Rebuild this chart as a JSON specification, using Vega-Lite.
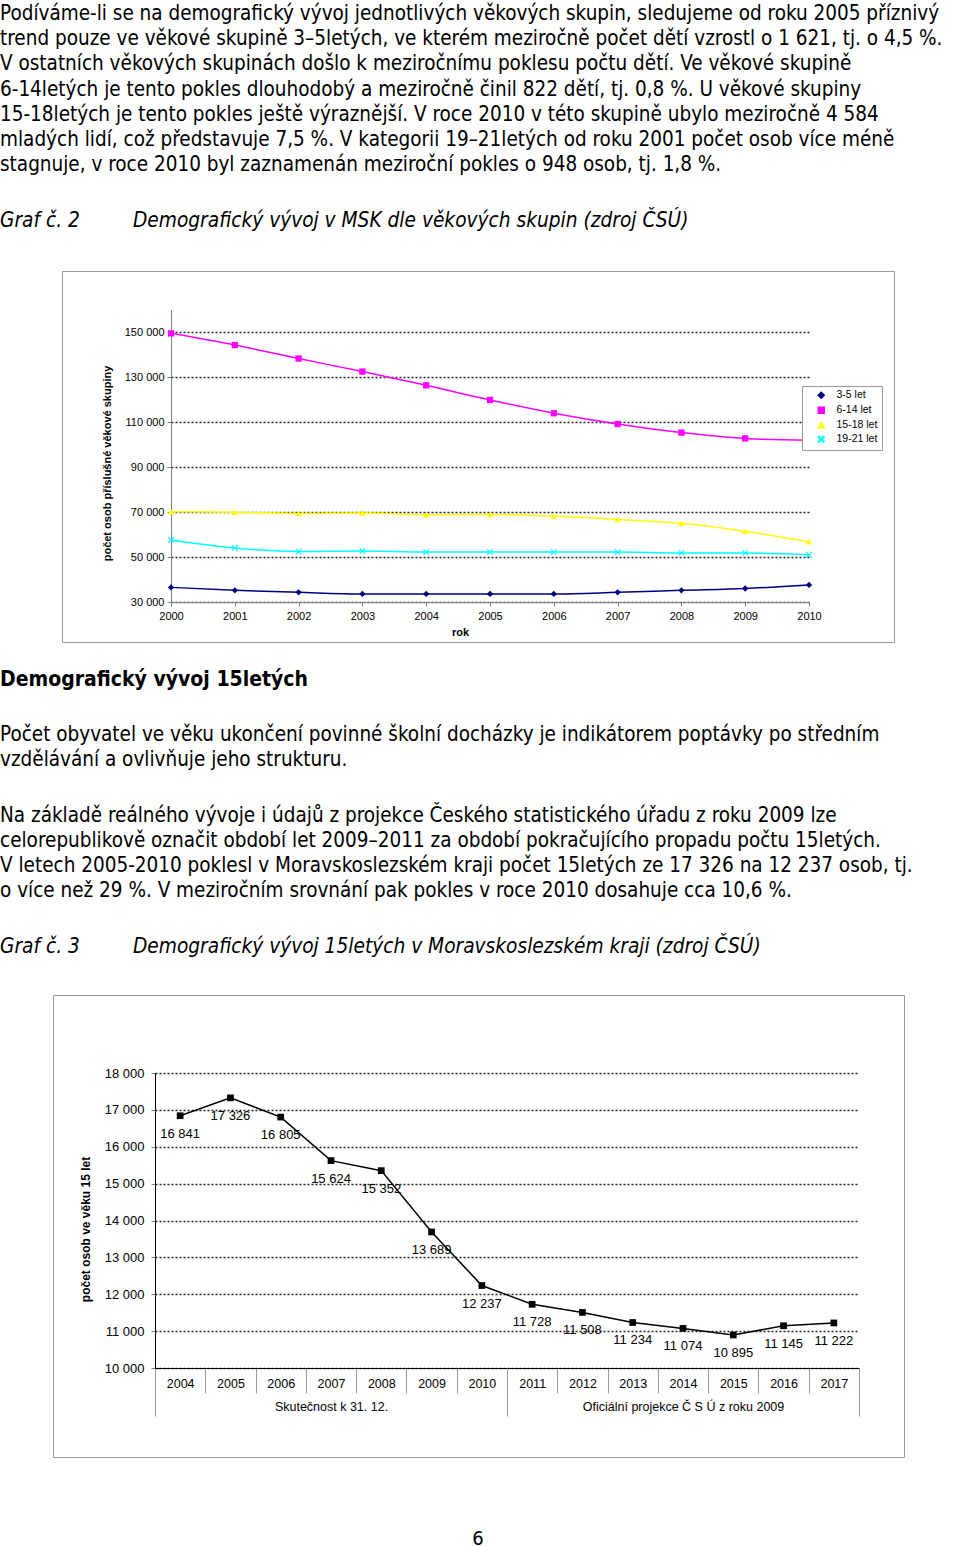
{
  "$schema": "https://vega.github.io/schema/vega-lite/v6.json",
  "padding": 0,
  "background": "white",
  "spacing": 0,
  "config": {
    "view": {"stroke": null},
    "font": "Liberation Sans",
    "locale": {"number": {"decimal": ",", "thousands": " ", "grouping": [3], "currency": ["", " Kč"]}},
    "text": {"color": "#000"},
    "axis": {"labelColor": "#000", "titleColor": "#000"}
  },
  "datasets": {
    "groups": [
      {"year": 2000, "group": "3-5 let", "value": 36500},
      {"year": 2001, "group": "3-5 let", "value": 35200},
      {"year": 2002, "group": "3-5 let", "value": 34300},
      {"year": 2003, "group": "3-5 let", "value": 33600},
      {"year": 2004, "group": "3-5 let", "value": 33600},
      {"year": 2005, "group": "3-5 let", "value": 33600},
      {"year": 2006, "group": "3-5 let", "value": 33600},
      {"year": 2007, "group": "3-5 let", "value": 34300},
      {"year": 2008, "group": "3-5 let", "value": 35200},
      {"year": 2009, "group": "3-5 let", "value": 36000},
      {"year": 2010, "group": "3-5 let", "value": 37600},
      {"year": 2000, "group": "6-14 let", "value": 149400},
      {"year": 2001, "group": "6-14 let", "value": 144200},
      {"year": 2002, "group": "6-14 let", "value": 138200},
      {"year": 2003, "group": "6-14 let", "value": 132400},
      {"year": 2004, "group": "6-14 let", "value": 126300},
      {"year": 2005, "group": "6-14 let", "value": 119800},
      {"year": 2006, "group": "6-14 let", "value": 113900},
      {"year": 2007, "group": "6-14 let", "value": 109100},
      {"year": 2008, "group": "6-14 let", "value": 105300},
      {"year": 2009, "group": "6-14 let", "value": 102700},
      {"year": 2010, "group": "6-14 let", "value": 101900},
      {"year": 2000, "group": "15-18 let", "value": 70100},
      {"year": 2001, "group": "15-18 let", "value": 69900},
      {"year": 2002, "group": "15-18 let", "value": 69300},
      {"year": 2003, "group": "15-18 let", "value": 69600},
      {"year": 2004, "group": "15-18 let", "value": 68800},
      {"year": 2005, "group": "15-18 let", "value": 68900},
      {"year": 2006, "group": "15-18 let", "value": 68200},
      {"year": 2007, "group": "15-18 let", "value": 66700},
      {"year": 2008, "group": "15-18 let", "value": 65000},
      {"year": 2009, "group": "15-18 let", "value": 61400},
      {"year": 2010, "group": "15-18 let", "value": 56800},
      {"year": 2000, "group": "19-21 let", "value": 57600},
      {"year": 2001, "group": "19-21 let", "value": 54000},
      {"year": 2002, "group": "19-21 let", "value": 52400},
      {"year": 2003, "group": "19-21 let", "value": 52700},
      {"year": 2004, "group": "19-21 let", "value": 52200},
      {"year": 2005, "group": "19-21 let", "value": 52200},
      {"year": 2006, "group": "19-21 let", "value": 52200},
      {"year": 2007, "group": "19-21 let", "value": 52200},
      {"year": 2008, "group": "19-21 let", "value": 51800},
      {"year": 2009, "group": "19-21 let", "value": 51800},
      {"year": 2010, "group": "19-21 let", "value": 51000}
    ],
    "fifteen": [
      {"year": "2004", "value": 16841, "grp": "Skutečnost k 31. 12."},
      {"year": "2005", "value": 17326, "grp": "Skutečnost k 31. 12."},
      {"year": "2006", "value": 16805, "grp": "Skutečnost k 31. 12."},
      {"year": "2007", "value": 15624, "grp": "Skutečnost k 31. 12."},
      {"year": "2008", "value": 15352, "grp": "Skutečnost k 31. 12."},
      {"year": "2009", "value": 13689, "grp": "Skutečnost k 31. 12."},
      {"year": "2010", "value": 12237, "grp": "Skutečnost k 31. 12."},
      {"year": "2011", "value": 11728, "grp": "Oficiální  projekce Č S Ú  z roku 2009"},
      {"year": "2012", "value": 11508, "grp": "Oficiální  projekce Č S Ú  z roku 2009"},
      {"year": "2013", "value": 11234, "grp": "Oficiální  projekce Č S Ú  z roku 2009"},
      {"year": "2014", "value": 11074, "grp": "Oficiální  projekce Č S Ú  z roku 2009"},
      {"year": "2015", "value": 10895, "grp": "Oficiální  projekce Č S Ú  z roku 2009"},
      {"year": "2016", "value": 11145, "grp": "Oficiální  projekce Č S Ú  z roku 2009"},
      {"year": "2017", "value": 11222, "grp": "Oficiální  projekce Č S Ú  z roku 2009"}
    ]
  },
  "vconcat": [
    {
      "width": 960, "height": 205,
      "data": {"values": [
        {"line": 1, "col": "a", "text": "Podíváme-li se na demografický vývoj jednotlivých věkových skupin, sledujeme od roku 2005 příznivý"},
        {"line": 2, "col": "a", "text": "trend pouze ve věkové skupině 3–5letých, ve kterém meziročně počet dětí vzrostl o 1 621, tj. o 4,5 %."},
        {"line": 3, "col": "a", "text": "V ostatních věkových skupinách došlo k meziročnímu poklesu počtu dětí. Ve věkové skupině"},
        {"line": 4, "col": "a", "text": "6-14letých je tento pokles dlouhodobý a meziročně činil 822 dětí, tj. 0,8 %. U věkové skupiny"},
        {"line": 5, "col": "a", "text": "15-18letých je tento pokles ještě výraznější. V roce 2010 v této skupině ubylo meziročně 4 584"},
        {"line": 6, "col": "a", "text": "mladých lidí, což představuje 7,5 %. V kategorii 19–21letých od roku 2001 počet osob více méně"},
        {"line": 7, "col": "a", "text": "stagnuje, v roce 2010 byl zaznamenán meziroční pokles o 948 osob, tj. 1,8 %."}
      ]},
      "mark": {"type": "text", "align": "left", "baseline": "middle", "font": "DejaVu Sans Condensed, DejaVu Sans", "fontSize": 20.5},
      "encoding": {
        "x": {"field": "col", "type": "nominal", "scale": {"type": "point", "range": [0, 960], "align": 0, "padding": 0}, "axis": null},
        "y": {"field": "line", "type": "ordinal", "scale": {"type": "band", "range": [1.4, 177.6], "paddingInner": 0, "paddingOuter": 0}, "axis": null},
        "text": {"field": "text"}
      }
    },
    {
      "width": 960, "height": 65,
      "data": {"values": [
        {"line": 1, "col": "a", "text": "Graf č. 2"},
        {"line": 1, "col": "b", "text": "Demografický vývoj v MSK dle věkových skupin (zdroj ČSÚ)"}
      ]},
      "mark": {"type": "text", "align": "left", "baseline": "middle", "font": "DejaVu Sans Condensed, DejaVu Sans", "fontSize": 20.7, "fontStyle": "italic"},
      "encoding": {
        "x": {"field": "col", "type": "nominal", "scale": {"type": "point", "range": [0, 133], "padding": 0}, "axis": null},
        "y": {"field": "line", "type": "ordinal", "scale": {"type": "band", "range": [3, 29], "paddingInner": 0, "paddingOuter": 0}, "axis": null},
        "text": {"field": "text"}
      }
    },
    {
      "spacing": 0,
      "hconcat": [
        {
          "width": 61, "height": 371,
          "data": {"values": [{"a": 0}]},
          "mark": {"type": "point", "opacity": 0},
          "encoding": {}
        },
        {
          "width": 832, "height": 371,
          "view": {"stroke": "#9a9a9a", "strokeWidth": 1},
          "data": {"name": "groups"},
          "encoding": {
            "x": {"field": "year", "type": "quantitative",
              "scale": {"domain": [2000, 2010], "range": [109, 747], "nice": false, "zero": false},
              "axis": {"orient": "bottom", "offset": -40, "values": [2000, 2001, 2002, 2003, 2004, 2005, 2006, 2007, 2008, 2009, 2010], "format": "d",
                "tickSize": 4, "labelPadding": 4, "labelFontSize": 11, "labelFlush": false, "grid": false, "domainColor": "#808080", "tickColor": "#808080",
                "title": "rok", "titleFontSize": 11, "titleFontWeight": "bold", "titleX": 398, "titlePadding": 5}},
            "y": {"field": "value", "type": "quantitative",
              "scale": {"domain": [30000, 160000], "range": [331, 38.5], "nice": false, "zero": false},
              "axis": {"orient": "left", "offset": -109, "values": [30000, 50000, 70000, 90000, 110000, 130000, 150000], "format": ",d",
                "tickSize": 4, "labelPadding": 3, "labelFontSize": 11, "labelFlush": false, "domainColor": "#808080", "tickColor": "#808080",
                "grid": true, "gridDash": [2, 2], "gridColor": "#000", "gridWidth": 1.5, "gridOpacity": 0.85,
                "title": "počet osob příslušné věkové skupiny", "titleFontSize": 11, "titleFontWeight": "bold", "titlePadding": 12, "titleY": 192}},
            "color": {"field": "group", "type": "nominal", "scale": {"domain": ["3-5 let", "6-14 let", "15-18 let", "19-21 let"], "range": ["#000080", "#ff00ff", "#ffff00", "#00ffff"]},
              "legend": {"orient": "none", "legendX": 802, "legendY": 386, "title": null, "strokeColor": "#9a9a9a", "fillColor": "#fff", "padding": 4, "labelFontSize": 10.5, "symbolSize": 35, "rowPadding": 2, "symbolOffset": 10, "labelOffset": 10, "symbolStrokeWidth": 1.5}}
          },
          "layer": [
            {
              "mark": {"type": "line", "interpolate": "monotone", "strokeWidth": 1.5}
            },
            {
              "mark": {"type": "point", "filled": true, "opacity": 1, "size": 40},
              "encoding": {
                "shape": {"field": "group", "type": "nominal", "scale": {"domain": ["3-5 let", "6-14 let", "15-18 let", "19-21 let"], "range": ["diamond", "square", "triangle-up", "M-1,-0.75L-0.75,-1L0,-0.25L0.75,-1L1,-0.75L0.25,0L1,0.75L0.75,1L0,0.25L-0.75,1L-1,0.75L-0.25,0Z"]},
                  "legend": {"orient": "none", "legendX": 802, "legendY": 386, "title": null, "strokeColor": "#9a9a9a", "fillColor": "#fff", "padding": 4, "labelFontSize": 10.5, "symbolSize": 35, "rowPadding": 2, "symbolOffset": 10, "labelOffset": 10, "symbolStrokeWidth": 1.5}}
              }
            }
          ]
        }
      ]
    },
    {
      "width": 960, "height": 64,
      "data": {"values": [{"line": 1, "col": "a", "text": "Demografický vývoj 15letých"}]},
      "mark": {"type": "text", "align": "left", "baseline": "middle", "font": "DejaVu Sans Condensed, DejaVu Sans", "fontSize": 21, "fontWeight": "bold"},
      "encoding": {
        "x": {"field": "col", "type": "nominal", "scale": {"type": "point", "range": [0, 960], "align": 0, "padding": 0}, "axis": null},
        "y": {"field": "line", "type": "ordinal", "scale": {"type": "band", "range": [24, 50], "paddingInner": 0, "paddingOuter": 0}, "axis": null},
        "text": {"field": "text"}
      }
    },
    {
      "width": 960, "height": 80,
      "data": {"values": [
        {"line": 1, "col": "a", "text": "Počet obyvatel ve věku ukončení povinné školní docházky je indikátorem poptávky po středním"},
        {"line": 2, "col": "a", "text": "vzdělávání a ovlivňuje jeho strukturu."}
      ]},
      "mark": {"type": "text", "align": "left", "baseline": "middle", "font": "DejaVu Sans Condensed, DejaVu Sans", "fontSize": 20.5},
      "encoding": {
        "x": {"field": "col", "type": "nominal", "scale": {"type": "point", "range": [0, 960], "align": 0, "padding": 0}, "axis": null},
        "y": {"field": "line", "type": "ordinal", "scale": {"type": "band", "range": [15.5, 65.5], "paddingInner": 0, "paddingOuter": 0}, "axis": null},
        "text": {"field": "text"}
      }
    },
    {
      "width": 960, "height": 130,
      "data": {"values": [
        {"line": 1, "col": "a", "text": "Na základě reálného vývoje i údajů z projekce Českého statistického úřadu z roku 2009 lze"},
        {"line": 2, "col": "a", "text": "celorepublikově označit období let 2009–2011 za období pokračujícího propadu počtu 15letých."},
        {"line": 3, "col": "a", "text": "V letech 2005-2010 poklesl v Moravskoslezském kraji počet 15letých ze 17 326 na 12 237 osob, tj."},
        {"line": 4, "col": "a", "text": "o více než 29 %. V meziročním srovnání pak pokles v roce 2010 dosahuje cca 10,6 %."}
      ]},
      "mark": {"type": "text", "align": "left", "baseline": "middle", "font": "DejaVu Sans Condensed, DejaVu Sans", "fontSize": 20.5},
      "encoding": {
        "x": {"field": "col", "type": "nominal", "scale": {"type": "point", "range": [0, 960], "align": 0, "padding": 0}, "axis": null},
        "y": {"field": "line", "type": "ordinal", "scale": {"type": "band", "range": [16.5, 116.5], "paddingInner": 0, "paddingOuter": 0}, "axis": null},
        "text": {"field": "text"}
      }
    },
    {
      "width": 960, "height": 77,
      "data": {"values": [
        {"line": 1, "col": "a", "text": "Graf č. 3"},
        {"line": 1, "col": "b", "text": "Demografický vývoj 15letých v Moravskoslezském kraji (zdroj ČSÚ)"}
      ]},
      "mark": {"type": "text", "align": "left", "baseline": "middle", "font": "DejaVu Sans Condensed, DejaVu Sans", "fontSize": 20.7, "fontStyle": "italic"},
      "encoding": {
        "x": {"field": "col", "type": "nominal", "scale": {"type": "point", "range": [0, 133], "padding": 0}, "axis": null},
        "y": {"field": "line", "type": "ordinal", "scale": {"type": "band", "range": [17, 43], "paddingInner": 0, "paddingOuter": 0}, "axis": null},
        "text": {"field": "text"}
      }
    },
    {
      "spacing": 0,
      "hconcat": [
        {
          "width": 52, "height": 462,
          "data": {"values": [{"a": 0}]},
          "mark": {"type": "point", "opacity": 0},
          "encoding": {}
        },
        {
          "width": 851, "height": 462,
          "view": {"stroke": "#9a9a9a", "strokeWidth": 1},
          "data": {"name": "fifteen"},
          "encoding": {
            "y": {"field": "value", "type": "quantitative",
              "scale": {"domain": [10000, 18000], "range": [373, 78], "nice": false, "zero": false},
              "axis": {"orient": "left", "offset": -102, "values": [10000, 11000, 12000, 13000, 14000, 15000, 16000, 17000, 18000], "format": ",d",
                "tickSize": 4, "labelPadding": 7, "labelFontSize": 13, "labelFlush": false, "domainColor": "#000", "tickColor": "#808080",
                "grid": true, "gridDash": [2, 2], "gridColor": "#000", "gridWidth": 1.5, "gridOpacity": 0.85,
                "title": "počet osob ve věku 15 let", "titleFontSize": 12, "titleFontWeight": "bold", "titlePadding": 12, "titleY": 234}}
          },
          "layer": [
            {
              "encoding": {
                "x": {"field": "year", "type": "ordinal",
                  "scale": {"type": "band", "range": [102, 806], "paddingInner": 0, "paddingOuter": 0},
                  "axis": {"orient": "bottom", "offset": -89, "tickBand": "extent", "tickSize": 25, "labelPadding": -16, "labelAngle": 0, "labelFontSize": 12.5,
                    "title": null, "domainColor": "#000", "tickColor": "#9a9a9a", "grid": false}}
              },
              "layer": [
                {"mark": {"type": "line", "color": "#000", "strokeWidth": 1.5}},
                {"mark": {"type": "point", "shape": "square", "filled": true, "color": "#000", "opacity": 1, "size": 45}},
                {"mark": {"type": "text", "dy": 18, "fontSize": 13, "baseline": "middle"},
                  "encoding": {"text": {"field": "value", "type": "quantitative", "format": ",d"}}}
              ]
            },
            {
              "mark": {"type": "point", "opacity": 0},
              "encoding": {
                "x": {"field": "grp", "type": "nominal", "sort": null,
                  "scale": {"type": "band", "range": [102, 806], "paddingInner": 0, "paddingOuter": 0},
                  "axis": {"orient": "bottom", "offset": -89, "tickBand": "extent", "tickSize": 48, "labelPadding": -16, "labelAngle": 0, "labelFontSize": 12.5, "labelLimit": 500,
                    "title": null, "domain": false, "tickColor": "#9a9a9a", "grid": false}}
              }
            }
          ],
          "resolve": {"scale": {"x": "independent"}, "axis": {"x": "independent"}}
        }
      ]
    },
    {
      "width": 960, "height": 93,
      "data": {"values": [{"line": 1, "col": "a", "text": "6"}]},
      "mark": {"type": "text", "align": "center", "baseline": "middle", "font": "DejaVu Sans Condensed, DejaVu Sans", "fontSize": 20},
      "encoding": {
        "x": {"field": "col", "type": "nominal", "scale": {"type": "point", "range": [0, 956], "align": 0.5, "padding": 0}, "axis": null},
        "y": {"field": "line", "type": "ordinal", "scale": {"type": "band", "range": [68, 94], "paddingInner": 0, "paddingOuter": 0}, "axis": null},
        "text": {"field": "text"}
      }
    }
  ]
}
